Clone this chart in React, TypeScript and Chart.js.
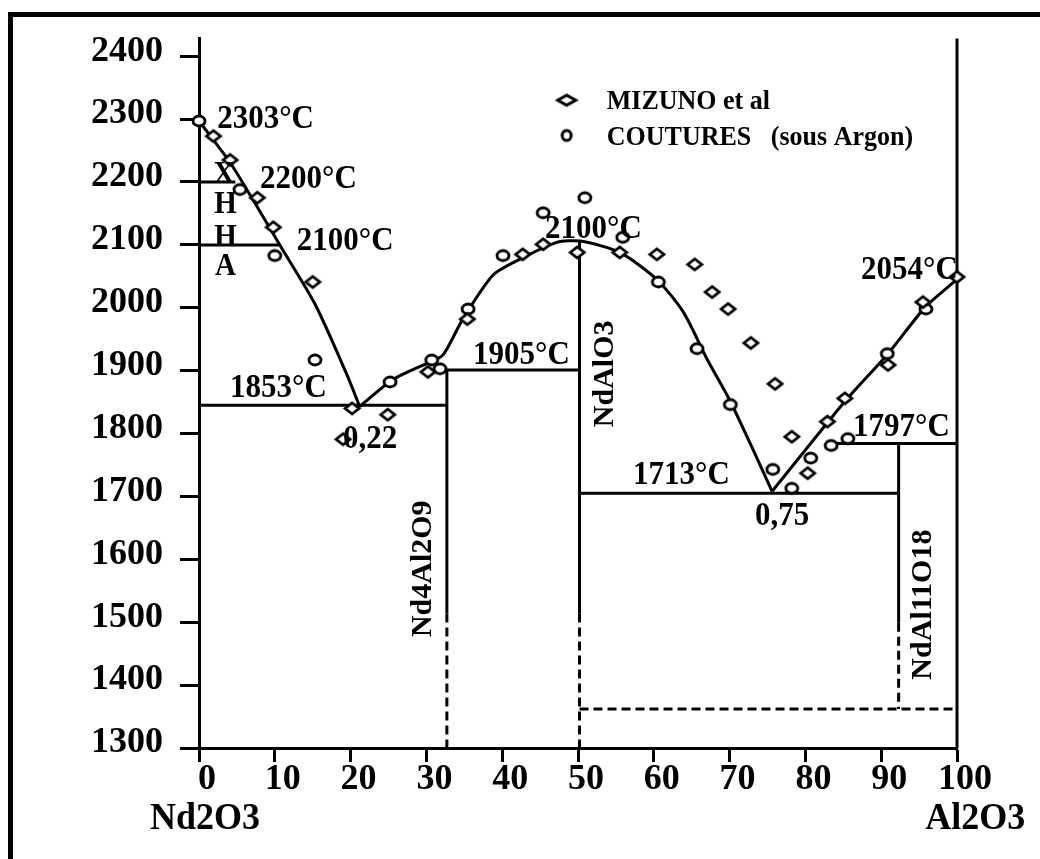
import React, { useEffect, useRef } from "react";
import { Chart, registerables } from "chart.js";

Chart.register(...registerables);

const FONT = "'Liberation Serif', 'Times New Roman', Times, serif";

// ---- axes ----
const X_TICKS = [0, 10, 20, 30, 40, 50, 60, 70, 80, 90, 100];
const Y_TICKS = [1300, 1400, 1500, 1600, 1700, 1800, 1900, 2000, 2100, 2200, 2300, 2400];
const X_MIN = 0;
const X_MAX = 100;
const Y_MIN = 1300;
const Y_MAX = 2428;

// ---- experimental points ----
const MIZUNO_PCT = [1.9, 4.1, 7.7, 9.8, 15.0, 20.2, 19.0, 24.9, 30.2, 35.4, 42.7, 45.4, 49.9, 55.5, 60.4, 65.4, 67.7, 69.8, 72.8, 76.0, 78.2, 80.3, 82.9, 85.2, 90.9, 95.5, 100];
const MIZUNO_TEMP = [2273, 2235, 2175, 2128, 2041, 1840, 1791, 1830, 1898, 1982, 2085, 2101, 2088, 2088, 2085, 2069, 2025, 1998, 1944, 1879, 1795, 1737, 1819, 1856, 1909, 2009, 2049];

const COUTURES_PCT = [0, 5.4, 10.0, 15.3, 25.2, 30.7, 31.8, 35.5, 40.1, 45.4, 50.9, 55.9, 60.6, 65.7, 70.1, 75.7, 78.2, 80.7, 83.4, 85.6, 90.8, 95.9];
const COUTURES_TEMP = [2297, 2188, 2083, 1917, 1882, 1917, 1903, 1998, 2083, 2151, 2175, 2112, 2041, 1935, 1846, 1743, 1713, 1761, 1781, 1792, 1927, 1998];

// ---- liquidus curves ----
const LIQ_A_PCT = [0, 4.1, 7.1, 10.7, 15.3, 19.5, 21.2];
const LIQ_A_TEMP = [2297, 2231, 2172, 2099, 2006, 1894, 1843];
const LIQ_B_PCT = [21.2, 25.6, 30.5, 32.2, 34.8, 38.8, 42.3, 47.2, 50.3, 55.5, 60.4, 63.9, 67.0, 70.1, 73.6, 75.6];
const LIQ_B_TEMP = [1843, 1886, 1914, 1925, 1982, 2052, 2077, 2104, 2106, 2088, 2045, 1993, 1919, 1851, 1761, 1708];
const LIQ_C_PCT = [75.6, 85.2, 90.9, 95.8, 100];
const LIQ_C_TEMP = [1708, 1851, 1927, 2001, 2045];

// ---- invariant / compound lines [x0, y0, x1, y1] ----
const SOLID_LINES = [
  [0, 2200, 4.8, 2200],
  [0, 2100, 10.7, 2100],
  [0, 1845, 32.7, 1845],
  [32.7, 1901, 50.2, 1901],
  [50.2, 1705, 92.3, 1705],
  [83, 1784, 100, 1784],
  [32.7, 1901, 32.7, 1514],
  [50.2, 2106, 50.2, 1514],
  [92.3, 1784, 92.3, 1499],
  [100, 1300, 100, 2428],
];
const DASHED_LINES = [
  [32.7, 1514, 32.7, 1300],
  [50.2, 1514, 50.2, 1300],
  [92.3, 1499, 92.3, 1362],
  [50.2, 1362, 99.5, 1362],
];

// ---- labels ----
const TEMP_LABELS = ["2303°C", "2200°C", "2100°C", "1853°C", "0,22", "1905°C", "2100°C", "1713°C", "0,75", "1797°C", "2054°C"];
const TEMP_LABEL_X = [2.4, 8.05, 12.9, 4.1, 19.0, 36.15, 45.65, 57.26, 73.35, 86.28, 87.34];
const TEMP_LABEL_Y = [2303, 2208, 2110, 1876, 1795, 1928, 2128, 1737, 1672, 1814, 2064];

const PHASE_LETTERS = ["X", "H", "H", "A"];
const PHASE_LETTER_X = [3.3, 3.5, 3.5, 3.5];
const PHASE_LETTER_Y = [2215, 2167, 2115, 2068];

const COMPOUNDS = ["Nd4Al2O9", "NdAlO3", "NdAl11O18"];
const COMPOUND_X = [29.3, 53.3, 95.25];
const COMPOUND_Y = [1585, 1895, 1528];

const END_LABELS = ["Nd2O3", "Al2O3"];
const END_LABEL_X = [0.8, 102.4];
const END_LABEL_Y = [1192, 1192];

const LEGEND_LABELS = ["MIZUNO et al", "COUTURES   (sous Argon)"];
const LEGEND_MARK_X = 48.5;
const LEGEND_TEXT_X = 53.8;
const LEGEND_Y = [2330, 2274];

function makeDiamond(w: number, h: number, lw: number, fill: string) {
  const c = document.createElement("canvas");
  c.width = Math.ceil(w + lw * 2);
  c.height = Math.ceil(h + lw * 2);
  const g = c.getContext("2d")!;
  const cx = c.width / 2, cy = c.height / 2;
  g.beginPath();
  g.moveTo(cx - w / 2, cy);
  g.lineTo(cx, cy - h / 2);
  g.lineTo(cx + w / 2, cy);
  g.lineTo(cx, cy + h / 2);
  g.closePath();
  g.fillStyle = fill;
  g.fill();
  g.lineWidth = lw;
  g.strokeStyle = "#000";
  g.lineJoin = "miter";
  g.stroke();
  return c;
}

function makeOval(w: number, h: number, lw: number) {
  const c = document.createElement("canvas");
  c.width = Math.ceil(w + lw * 2);
  c.height = Math.ceil(h + lw * 2);
  const g = c.getContext("2d")!;
  g.beginPath();
  g.ellipse(c.width / 2, c.height / 2, w / 2, h / 2, 0, 0, Math.PI * 2);
  g.fillStyle = "#fff";
  g.fill();
  g.lineWidth = lw;
  g.strokeStyle = "#000";
  g.stroke();
  return c;
}

const toPts = (xs: number[], ys: number[]) => xs.map((x, i) => ({ x, y: ys[i] }));

export default function App() {
  const ref = useRef<HTMLCanvasElement>(null);

  useEffect(() => {
    document.body.style.margin = "0";
    const canvas = ref.current!;
    const diamond = makeDiamond(14, 11, 2.8, "#fff");
    const oval = makeOval(12, 10, 2.8);
    const legendDiamond = makeDiamond(18, 10, 3, "#fff");
    const legendOval = makeOval(9, 10, 3);

    const lineDs = (pts: { x: number; y: number }[], dash: number[] = [], tension = 0) => ({
      type: "scatter" as const,
      data: pts,
      showLine: true,
      borderColor: "#000",
      borderWidth: 3,
      borderDash: dash,
      pointRadius: 0,
      pointHoverRadius: 0,
      tension,
      clip: false as any,
      order: 2,
    });

    const datasets: any[] = [
      {
        label: LEGEND_LABELS[0],
        data: toPts(MIZUNO_PCT, MIZUNO_TEMP),
        pointStyle: diamond,
        showLine: false,
        clip: false,
        order: 0,
      },
      {
        label: LEGEND_LABELS[1],
        data: toPts(COUTURES_PCT, COUTURES_TEMP),
        pointStyle: oval,
        showLine: false,
        clip: false,
        order: 1,
      },
      lineDs(toPts(LIQ_A_PCT, LIQ_A_TEMP), [], 0.25),
      lineDs(toPts(LIQ_B_PCT, LIQ_B_TEMP), [], 0.25),
      lineDs(toPts(LIQ_C_PCT, LIQ_C_TEMP), [], 0.2),
      ...SOLID_LINES.map((s) => lineDs([{ x: s[0], y: s[1] }, { x: s[2], y: s[3] }])),
      ...DASHED_LINES.map((s) => lineDs([{ x: s[0], y: s[1] }, { x: s[2], y: s[3] }], [9, 5])),
    ];

    const framePlugin = {
      id: "frame",
      beforeDraw(chart: any) {
        const { ctx, width, height } = chart;
        ctx.save();
        ctx.fillStyle = "#fff";
        ctx.fillRect(0, 0, width, height);
        ctx.fillStyle = "#000";
        ctx.fillRect(8, 12, width - 8, 5);
        ctx.fillRect(8, 12, 5, height - 12);
        ctx.restore();
      },
    };

    const textPlugin = {
      id: "texts",
      afterDatasetsDraw(chart: any) {
        const { ctx } = chart;
        const xs = chart.scales.x;
        const ys = chart.scales.y;
        const draw = (t: string, px: number, py: number, size: number, align: CanvasTextAlign, rot = 0, sy = 1.08) => {
          ctx.save();
          ctx.translate(px, py);
          if (rot) ctx.rotate(rot);
          ctx.scale(1, sy);
          ctx.fillStyle = "#000";
          ctx.font = `bold ${size}px ${FONT}`;
          ctx.textAlign = align;
          ctx.textBaseline = "alphabetic";
          ctx.fillText(t, 0, size * 0.33);
          ctx.restore();
        };
        TEMP_LABELS.forEach((t, i) =>
          draw(t, xs.getPixelForValue(TEMP_LABEL_X[i]), ys.getPixelForValue(TEMP_LABEL_Y[i]), 31, "left")
        );
        PHASE_LETTERS.forEach((t, i) =>
          draw(t, xs.getPixelForValue(PHASE_LETTER_X[i]), ys.getPixelForValue(PHASE_LETTER_Y[i]), 29, "center")
        );
        COMPOUNDS.forEach((t, i) =>
          draw(t, xs.getPixelForValue(COMPOUND_X[i]), ys.getPixelForValue(COMPOUND_Y[i]), 30, "center", -Math.PI / 2, 1)
        );
        END_LABELS.forEach((t, i) =>
          draw(t, xs.getPixelForValue(END_LABEL_X[i]), ys.getPixelForValue(END_LABEL_Y[i]), 36, "center")
        );
        // legend
        const mx = xs.getPixelForValue(LEGEND_MARK_X);
        const tx = xs.getPixelForValue(LEGEND_TEXT_X);
        const marks = [legendDiamond, legendOval];
        LEGEND_LABELS.forEach((t, i) => {
          const py = ys.getPixelForValue(LEGEND_Y[i]);
          const m = marks[i];
          ctx.drawImage(m, mx - m.width / 2, py - m.height / 2);
          draw(t, tx, py, 26, "left");
        });
      },
    };

    const tickFont = { family: FONT, size: 36, weight: "bold" as const };

    const chart = new Chart(canvas, {
      type: "scatter",
      data: { datasets },
      options: {
        animation: false,
        responsive: false,
        maintainAspectRatio: false,
        devicePixelRatio: 1,
        layout: { padding: { left: 0, top: 35, right: 83, bottom: 0 } },
        plugins: { legend: { display: false }, tooltip: { enabled: false } },
        elements: { point: { radius: 6, hoverRadius: 6 } },
        scales: {
          x: {
            type: "linear",
            min: X_MIN,
            max: X_MAX,
            afterBuildTicks: (s: any) => {
              s.ticks = X_TICKS.map((v) => ({ value: v }));
            },
            afterFit: (s: any) => {
              s.height = 111;
            },
            grid: { drawOnChartArea: false, drawTicks: true, tickLength: 14, tickWidth: 3, tickColor: "#000", color: "#000" },
            border: { display: true, color: "#000", width: 3 },
            ticks: { color: "#000", font: tickFont, padding: -4, labelOffset: 8, autoSkip: false, maxRotation: 0, callback: (v: any) => String(v) },
          },
          y: {
            type: "linear",
            min: Y_MIN,
            max: Y_MAX,
            afterBuildTicks: (s: any) => {
              s.ticks = Y_TICKS.map((v) => ({ value: v }));
            },
            afterFit: (s: any) => {
              s.width = 199;
            },
            grid: { drawOnChartArea: false, drawTicks: true, tickLength: 19, tickWidth: 3, tickColor: "#000", color: "#000" },
            border: { display: true, color: "#000", width: 3 },
            ticks: { color: "#000", font: tickFont, padding: 17, labelOffset: -5, autoSkip: false, callback: (v: any) => String(v) },
          },
        },
      },
      plugins: [framePlugin, textPlugin],
    });
    return () => chart.destroy();
  }, []);

  return <canvas ref={ref} width={1040} height={859} style={{ display: "block", width: 1040, height: 859 }} />;
}
